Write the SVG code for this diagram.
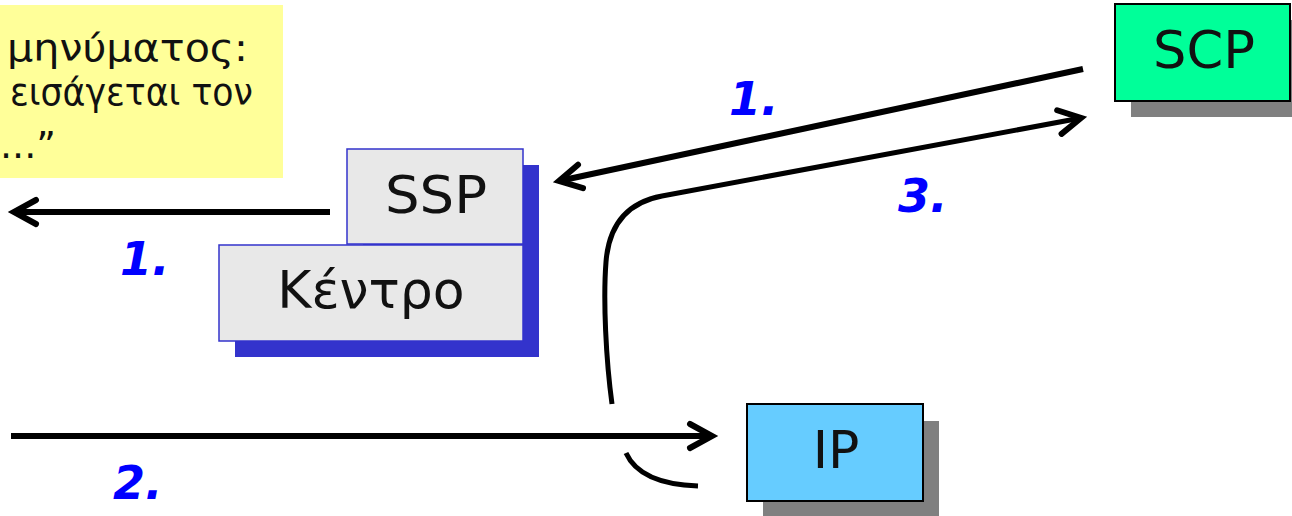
<svg xmlns="http://www.w3.org/2000/svg" width="1292" height="516" viewBox="0 0 1292 516">
  <style>
    .lbl { font-family: "DejaVu Sans", Verdana, sans-serif; font-size: 38px; fill: #111; }
    .box { font-family: "DejaVu Sans", Verdana, sans-serif; font-size: 52px; fill: #111; text-anchor: middle; }
    .num { font-family: "DejaVu Sans", Verdana, sans-serif; font-size: 46px; font-weight: bold; font-style: italic; fill: #0000FF; }
    .conn { fill: none; stroke: #000; stroke-width: 6; }
    .curve { fill: none; stroke: #000; stroke-width: 5; }
  </style>
  <defs>
    <marker id="chev" markerUnits="userSpaceOnUse" orient="auto" refX="0" refY="0" overflow="visible">
      <path d="M-22,-12 L0,0 L-22,12" fill="none" stroke="#000" stroke-width="6" stroke-linecap="round" stroke-linejoin="miter"/>
    </marker>
  </defs>
  <rect width="1292" height="516" fill="#fff"/>

  <g id="note">
    <rect x="0" y="5" width="283" height="173" fill="#FFFF99"/>
    <text class="lbl" x="7" y="61" textLength="241" lengthAdjust="spacingAndGlyphs">μηνύματος:</text>
    <text class="lbl" x="10" y="105" textLength="243" lengthAdjust="spacingAndGlyphs">εισάγεται τον</text>
    <text class="lbl" x="0" y="158">...”</text>
  </g>

  <g id="ssp-kentro">
    <rect x="363" y="165" width="176" height="96" fill="#3333CC"/>
    <rect x="235" y="261" width="304" height="96" fill="#3333CC"/>
    <rect x="347" y="149" width="176" height="95" fill="#E8E8E8" stroke="#3333CC" stroke-width="1.5"/>
    <rect x="219" y="245" width="304" height="96" fill="#E8E8E8" stroke="#3333CC" stroke-width="1.5"/>
    <text class="box" x="436" y="213" textLength="102" lengthAdjust="spacingAndGlyphs">SSP</text>
    <text class="box" x="371" y="308">Κέντρο</text>
  </g>

  <g id="scp">
    <rect x="1131" y="20" width="161" height="97" fill="#808080"/>
    <rect x="1115" y="4" width="175" height="97" fill="#00FF99" stroke="#000" stroke-width="2"/>
    <text class="box" x="1204" y="68" textLength="102" lengthAdjust="spacingAndGlyphs">SCP</text>
  </g>

  <g id="ip">
    <rect x="763" y="421" width="176" height="97" fill="#808080"/>
    <rect x="747" y="404" width="176" height="97" fill="#66CCFF" stroke="#000" stroke-width="2"/>
    <text class="box" x="836" y="468">IP</text>
  </g>

  <g id="connectors">
    <line class="conn" x1="330" y1="212" x2="14" y2="212" marker-end="url(#chev)"/>
    <line class="conn" x1="1083" y1="69" x2="559" y2="181" marker-end="url(#chev)"/>
    <path class="curve" d="M612,404 C606,360 603,300 606,262 C609,222 630,202 662,196 L1081,118" marker-end="url(#chev)"/>
    <line class="conn" x1="11" y1="436" x2="712" y2="436" marker-end="url(#chev)"/>
    <path class="curve" d="M626,453 Q640,484 698,486"/>
  </g>

  <g id="labels">
    <text class="num" x="120" y="275">1.</text>
    <text class="num" x="729" y="115">1.</text>
    <text class="num" x="898" y="212">3.</text>
    <text class="num" x="113" y="499">2.</text>
  </g>
</svg>
